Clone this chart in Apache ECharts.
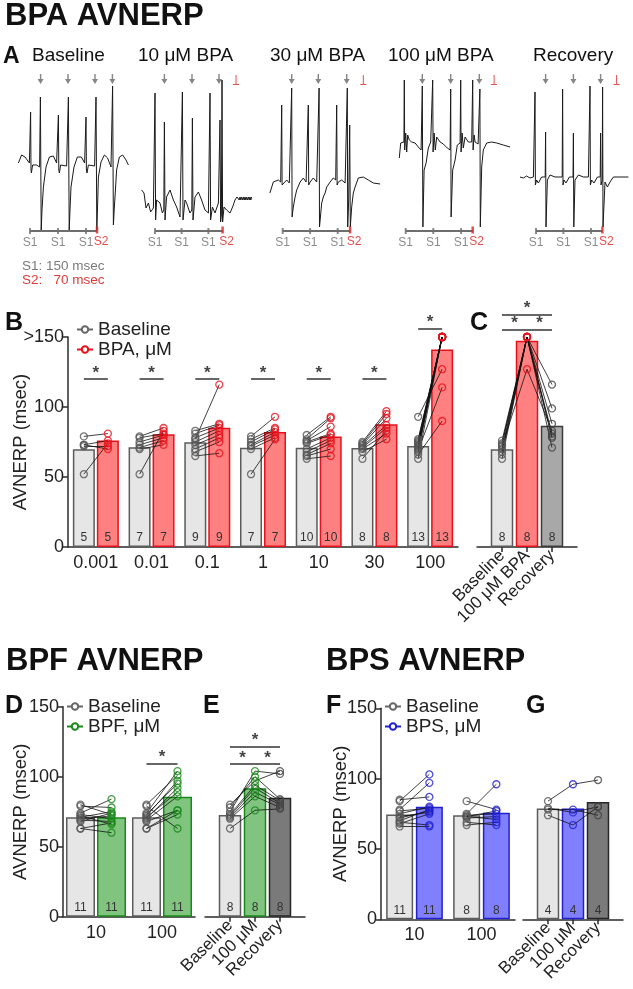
<!DOCTYPE html>
<html><head><meta charset="utf-8">
<script src="https://cdn.jsdelivr.net/npm/echarts@6/dist/echarts.min.js"></script>
<style>html,body{margin:0;padding:0;background:#fff}#c{width:633px;height:989px}</style>
</head><body><div id="c"></div>
<script>
// ================= DATA =================
// Panel A: electrogram traces, [time (ms from first S1), amplitude (a.u.)]
const traceBaseline = [[-58,77],[-42,85],[-25,83],[-3,77],[1,77],[3,128],[5,70],[7,67],[13,75],[33,75],[48,73],[52,143],[56,10],[60,30],[67,53],[80,73],[97,83],[117,84],[133,77],[140,77],[142,125],[144,70],[147,67],[153,75],[183,74],[188,74],[192,143],[196,10],[200,30],[205,53],[220,73],[237,83],[257,83],[273,77],[278,77],[280,123],[282,70],[285,67],[292,75],[323,74],[326,74],[330,143],[334,10],[338,35],[342,63],[355,78],[372,85],[388,82],[405,73],[410,73],[413,154],[417,15],[421,30],[425,43],[433,70],[447,83],[463,85],[480,80],[492,75]];
const trace10 = [[-67,50],[-55,47],[-45,32],[-33,37],[-22,28],[-8,32],[-2,30],[0,147],[3,20],[8,40],[25,37],[37,27],[44,30],[47,118],[50,20],[58,43],[75,50],[92,40],[108,33],[125,23],[134,25],[137,148],[140,20],[150,40],[158,37],[175,27],[184,30],[187,122],[190,20],[200,43],[217,48],[233,40],[250,30],[267,27],[272,28],[275,147],[278,20],[287,33],[300,27],[317,37],[322,35],[325,120],[328,18],[332,25],[335,160],[338,18],[345,33],[358,30],[375,27],[388,33],[400,40],[410,43],[417,43],[421,40],[425,43],[429,40],[433,43],[438,40],[442,43],[446,40],[450,43],[454,40],[458,43],[462,40],[467,43],[471,40],[475,43],[479,40],[483,43]];
const trace30 = [[-64,47],[-47,58],[-22,60],[-10,58],[-6,58],[-5,135],[-3,55],[3,53],[20,60],[33,57],[43,57],[45,152],[47,23],[53,33],[62,43],[70,50],[87,58],[103,62],[117,58],[126,58],[128,135],[130,55],[137,58],[153,62],[170,58],[180,58],[182,152],[184,13],[195,37],[203,43],[212,47],[220,53],[237,58],[253,62],[265,60],[268,60],[270,135],[272,55],[278,58],[295,60],[312,57],[321,57],[323,152],[325,13],[330,40],[335,115],[338,13],[345,33],[353,47],[362,53],[378,62],[403,63],[428,60],[453,57],[487,56]];
const trace100 = [[-32,82],[-25,97],[-15,98],[-9,98],[-7,160],[-5,90],[0,107],[5,88],[10,105],[18,100],[30,98],[47,97],[63,93],[77,90],[81,90],[83,154],[86,13],[92,70],[102,77],[113,92],[125,98],[133,98],[135,160],[137,88],[142,107],[148,90],[155,103],[172,98],[188,96],[208,92],[222,90],[225,151],[227,23],[235,70],[247,80],[258,95],[272,97],[275,160],[277,88],[282,107],[288,92],[297,103],[313,98],[330,98],[333,98],[335,160],[337,90],[342,105],[347,98],[362,96],[369,95],[371,151],[373,13],[380,73],[388,90],[405,97],[430,98],[455,97],[488,95],[522,93]];
const traceRecovery = [[-80,63],[-63,62],[-47,64],[-30,62],[-13,63],[-7,63],[-5,148],[-3,55],[3,60],[12,57],[28,63],[46,63],[48,108],[50,13],[57,60],[70,65],[95,63],[120,63],[131,63],[133,151],[135,55],[140,60],[150,57],[167,63],[185,63],[187,107],[189,13],[195,60],[212,65],[237,63],[262,63],[268,63],[270,154],[272,55],[278,60],[290,57],[307,63],[321,63],[323,107],[325,55],[331,60],[333,153],[335,13],[345,58],[357,53],[370,58],[387,63],[420,63],[462,63]];
const traceTitles = ['Baseline','10 μM BPA','30 μM BPA','100 μM BPA','Recovery'];
const s1Times = [[0,140,280],[0,133,267],[0,137,275],[0,138,277],[0,137,275]];
const s2Times = [335,338,337,335,332];
const arrowTimes = [[53,190,325,412],[47,185,320],[45,178,320],[83,225,368],[48,187,323]];
const blockTimes = [null,405,403,442,403];

// Panel B
const catsB = ['0.001','0.01','0.1','1','10','30','100'];
const nB = [5,7,9,7,10,8,13];
const meanBaseB = [69.8,71.2,74.8,70.9,70.9,70.7,72.1];
const meanBpaB = [76,80.5,85.2,82.1,79,87.6,141];
const ptsBaseB = [[79,73,72,52,73],[79,78,75,73,71,70,52],[83,81,78,77,75,73,70,68,65],[79,77,75,73,72,70,52],[80,77,76,75,74,70,68,66,65,63],[75,74,73,72,71,70,68,63],[93,77,76,75,74,73,72,71,70,69,68,66,63]];
const ptsBpaB = [[81,76,72,74,70],[85,81,80,78,76,73,83],[88,87,85,116,83,80,78,75,67],[93,85,84,82,80,78,77],[93,92,86,81,80,78,76,74,70,65],[97,95,92,87,85,81,77,83],[127,150,150,150,150,150,150,150,150,114,150,90,150]];
const sigB = [1,1,1,1,1,1,1];
const sigLevelB = [120,120,120,120,120,120,156];
const yTicksB = ['0','50','100','>150'];

// Panel C
const catsC = ['Baseline','100 μM BPA','Recovery'];
const nC = [8,8,8];
const meanC = [69.8,147.4,86.6];
const ptsC = [[76,74,73,72,70,68,66,63],[150,150,150,127,150,150,150,150],[116,99,88,83,81,79,78,71]];
const sigC = [[0,2,166],[0,1,155.5],[1,2,155.5]];

// Panel D
const catsD = ['10','100'];
const nD = [11,11];
const meanBaseD = [71,71];
const meanBpfD = [71,85.7];
const ptsBaseD = [[80,79,74,73,72,71,70,69,68,63,63],[80,79,74,73,72,71,70,69,68,63,63]];
const ptsBpfD = [[73,78,84,70,66,75,72,68,74,60,67],[101,63,104,95,97,89,92,86,76,73,76]];
const sigD = [0,1];
const sigLevelD = [0,109.6];
const yTicksD = ['0','50','100','150'];

// Panel E
const catsE = ['Baseline','100 μM','Recovery'];
const nE = [8,8,8];
const meanE = [72.6,91.7,85];
const ptsE = [[80,78,75,73,72,71,70,63],[97,100,104,94,92,89,86,76],[104,84,102,83,81,80,78,77]];
const sigE = [[0,2,121.4],[0,1,109],[1,2,109]];

// Panel F
const catsF = ['10','100'];
const nF = [11,8];
const meanBaseF = [74.5,74];
const meanBpsF = [80,75.7];
const ptsBaseF = [[85,84,78,77,75,73,72,70,69,68,66],[84,75,74,73,73,72,69,67]];
const ptsBpsF = [[87,103,97,79,80,76,77,78,67,75,66],[78,96,75,77,71,73,67,69]];
const sigF = [0,0];
const sigLevelF = [0,0];

// Panel G
const catsG = ['Baseline','100 μM','Recovery'];
const nG = [4,4,4];
const meanG = [78.8,78.8,83.3];
const ptsG = [[84,79,78,74],[96,76,78,67],[99,80,74,80]];
const sigG = [];

// ================= STYLE / LAYOUT =================
const FONT = '"Liberation Sans", Arial, Helvetica, sans-serif';
const AX = '#2b2b2b';
const C_BASE = {fill:'#e6e6e6', edge:'#5c5c5c', pt:'#555555'};
const C_BPA = {fill:'#ff8080', edge:'#e8101a', pt:'#e8101a'};
const C_BPF = {fill:'#80c480', edge:'#198a19', pt:'#198a19'};
const C_BPS = {fill:'#8080ff', edge:'#2020d0', pt:'#2020d0'};
const C_RECL = {fill:'#a8a8a8', edge:'#3c3c3c', pt:'#444444'};
const C_RECD = {fill:'#7a7a7a', edge:'#262626', pt:'#444444'};
const ARROW = 'path://M2.3,0 L3.7,0 L3.7,5 L6,5 L3,10 L0,5 L2.3,5 Z';
const BLOCK = 'path://M2.5,0 L3.5,0 L3.5,9 L6,9 L6,10 L0,10 L0,9 L2.5,9 Z';

const grids=[], xAxes=[], yAxes=[], series=[], titles=[];
function addGrid(g, x, y){ grids.push(Object.assign({outerBoundsMode:'none', containLabel:false}, g)); const i=grids.length-1; xAxes.push(Object.assign({gridIndex:i}, x)); yAxes.push(Object.assign({gridIndex:i}, y)); return i; }
function addText(text, left, top, size, extra){ titles.push({text, left, top, padding:0, textStyle:Object.assign({fontSize:size, fontWeight:'normal', color:'#111', fontFamily:FONT}, extra||{})}); }

// ---------- Panel A ----------
const traces = [traceBaseline, trace10, trace30, trace100, traceRecovery];
const traceLeft = [12,137,264.7,387.7,518];
const traceMax = [530,530,530,530,470];
const traceTitleLeft = [32,138,270,388,533];
const stimLevel = 9, arrowLevel = 161;
traces.forEach((tr, i) => {
  const gi = addGrid({left:traceLeft[i], top:60, width:(traceMax[i]+90)/5, height:185},
    {type:'value', min:-90, max:traceMax[i], show:false},
    {type:'value', min:-5, max:180, show:false});
  const ax = {xAxisIndex:gi, yAxisIndex:gi, silent:true};
  series.push(Object.assign({type:'line', data:tr, symbol:'none', lineStyle:{color:'#1a1a1a', width:1}, z:3}, ax));
  series.push(Object.assign({type:'line', data:[[s1Times[i][0],stimLevel],[s2Times[i],stimLevel]], symbol:'none', lineStyle:{color:'#6e6e6e', width:2}, z:2}, ax));
  series.push(Object.assign({type:'scatter', data:s1Times[i].map(t=>[t,stimLevel]), symbol:'rect', symbolSize:[2,6], itemStyle:{color:'#6e6e6e'},
    label:{show:true, position:'bottom', distance:3, formatter:'S1', color:'#6e6e6e', fontSize:12}, z:3}, ax));
  series.push(Object.assign({type:'scatter', data:[[s2Times[i],stimLevel+1]], symbol:'rect', symbolSize:[2.5,7], itemStyle:{color:'#e02020'},
    label:{show:true, position:'bottom', distance:2, offset:[4,0], formatter:'S2', color:'#e02020', fontSize:12}, z:4}, ax));
  series.push(Object.assign({type:'scatter', data:arrowTimes[i].map(t=>[t,arrowLevel]), symbol:ARROW, symbolSize:[6,10], itemStyle:{color:'#666'}, z:3}, ax));
  if (blockTimes[i] !== null) series.push(Object.assign({type:'scatter', data:[[blockTimes[i],arrowLevel-1]], symbol:BLOCK, symbolSize:[6,10], itemStyle:{color:'#e02020'}, z:3}, ax));
  addText(traceTitles[i], traceTitleLeft[i], 46, 19);
});

// ---------- paired panels (B, D, F) ----------
function pairPanel(p){
  const gi = addGrid({left:p.left, top:p.top, width:p.width, height:p.height},
    {type:'category', data:p.cats, axisTick:{alignWithLabel:true, length:5, lineStyle:{color:AX, width:1.5}},
     axisLine:{lineStyle:{color:AX, width:1.5}}, axisLabel:{fontSize:18, color:'#222', margin:7, interval:0}},
    {type:'value', min:0, max:150, interval:50, axisLine:{show:true, lineStyle:{color:AX, width:1.5}},
     axisTick:{show:true, length:5, lineStyle:{color:AX, width:1.5}}, splitLine:{show:false},
     axisLabel:{fontSize:18, color:'#222', margin:4, formatter:v=>p.yTicks[Math.round(v/50)]},
     name:'AVNERP (msec)', nameLocation:'middle', nameRotate:90, nameGap:p.nameGap, nameMoveOverlap:false,
     nameTextStyle:{fontSize:18.5, color:'#222'}});
  const scale = p.height/150, oh = scale*180;
  const oi = addGrid({left:p.left, top:p.top+p.height-oh, width:p.width, height:oh},
    {type:'value', min:-0.5, max:p.cats.length-0.5, show:false},
    {type:'value', min:0, max:180, show:false});
  const band = p.width/p.cats.length;
  const off = (p.barWidth/2*(1+p.barGap))/band;
  const lab = {show:true, position:'insideBottom', distance:3, fontSize:12, color:'#333', formatter:q=>p.n[q.dataIndex]};
  series.push({type:'bar', xAxisIndex:gi, yAxisIndex:gi, data:p.meanA, barWidth:p.barWidth, barGap:(p.barGap*100)+'%',
    itemStyle:{color:p.colA.fill, borderColor:p.colA.edge, borderWidth:1.5}, label:lab, z:2, silent:true});
  series.push({type:'bar', xAxisIndex:gi, yAxisIndex:gi, data:p.meanB, barWidth:p.barWidth, barGap:(p.barGap*100)+'%',
    itemStyle:{color:p.colB.fill, borderColor:p.colB.edge, borderWidth:1.5}, label:lab, z:2, silent:true});
  const pairs=[], sa=[], sb=[];
  p.ptsA.forEach((arr, i) => arr.forEach((a, k) => {
    const b = p.ptsB[i][k];
    pairs.push({coords:[[i-off,a],[i+off,b]]});
    sa.push([i-off,a]); sb.push([i+off,b]);
  }));
  const ax = {xAxisIndex:oi, yAxisIndex:oi, silent:true};
  series.push(Object.assign({type:'lines', coordinateSystem:'cartesian2d', data:pairs, lineStyle:{color:'#111', width:0.8, opacity:1}, z:4}, ax));
  series.push(Object.assign({type:'scatter', data:sa, symbol:'circle', symbolSize:7, itemStyle:{color:'rgba(0,0,0,0)', borderColor:p.colA.pt, borderWidth:1.3}, z:5}, ax));
  series.push(Object.assign({type:'scatter', data:sb, symbol:'circle', symbolSize:7, itemStyle:{color:'rgba(0,0,0,0)', borderColor:p.colB.pt, borderWidth:1.3}, z:5}, ax));
  const sl=[], st=[];
  p.sig.forEach((s, i) => { if (s) { sl.push({coords:[[i-off,p.sigLevel[i]],[i+off,p.sigLevel[i]]]}); st.push([i, p.sigLevel[i]+6/scale]); } });
  if (sl.length){
    series.push(Object.assign({type:'lines', coordinateSystem:'cartesian2d', data:sl, lineStyle:{color:'#333', width:1.5, opacity:1}, z:4}, ax));
    series.push(Object.assign({type:'scatter', data:st, symbol:'circle', symbolSize:0.1, itemStyle:{color:'rgba(0,0,0,0)'},
      label:{show:true, position:'inside', formatter:'*', fontSize:17, fontWeight:'bold', color:'#111'}, z:5}, ax));
  }
}

// ---------- triple panels (C, E, G) ----------
function triplePanel(p){
  const cats = [' ', ...p.cats, '  '];
  const gi = addGrid({left:p.left, top:p.top, width:p.width, height:p.height},
    {type:'category', data:cats, boundaryGap:false,
     axisTick:{length:5, interval:(i,v)=>v.trim()!=='', lineStyle:{color:AX, width:1.5}},
     axisLine:{lineStyle:{color:AX, width:1.5}}, axisLabel:{fontSize:17, color:'#222', rotate:45, interval:0, margin:6}},
    {type:'value', min:0, max:150, show:false});
  const scale = p.height/150, oh = scale*180;
  const oi = addGrid({left:p.left, top:p.top+p.height-oh, width:p.width, height:oh},
    {type:'value', min:0, max:4, show:false},
    {type:'value', min:0, max:180, show:false});
  series.push({type:'bar', xAxisIndex:gi, yAxisIndex:gi, barWidth:22.5,
    data:['-', ...p.means.map((m,i)=>({value:m, itemStyle:{color:p.cols[i].fill, borderColor:p.cols[i].edge, borderWidth:1.5}})), '-'],
    label:{show:true, position:'insideBottom', distance:3, fontSize:12, color:'#333', formatter:q=>p.n[q.dataIndex-1]}, z:2, silent:true});
  const ax = {xAxisIndex:oi, yAxisIndex:oi, silent:true};
  const lines = p.pts[0].map((_, k) => ({coords:p.pts.map((arr, i)=>[i+1, arr[k]])}));
  series.push(Object.assign({type:'lines', coordinateSystem:'cartesian2d', polyline:true, data:lines, lineStyle:{color:'#111', width:0.8, opacity:1}, z:4}, ax));
  p.pts.forEach((arr, i) => {
    series.push(Object.assign({type:'scatter', data:arr.map(v=>[i+1,v]), symbol:'circle', symbolSize:7,
      itemStyle:{color:'rgba(0,0,0,0)', borderColor:p.cols[i].pt, borderWidth:1.3}, z:5}, ax));
  });
  if (p.sig.length){
    series.push(Object.assign({type:'lines', coordinateSystem:'cartesian2d', data:p.sig.map(s=>({coords:[[s[0]+1,s[2]],[s[1]+1,s[2]]]})), lineStyle:{color:'#333', width:1.5, opacity:1}, z:4}, ax));
    series.push(Object.assign({type:'scatter', data:p.sig.map(s=>[(s[0]+s[1])/2+1, s[2]+6/scale]), symbol:'circle', symbolSize:0.1, itemStyle:{color:'rgba(0,0,0,0)'},
      label:{show:true, position:'inside', formatter:'*', fontSize:17, fontWeight:'bold', color:'#111'}, z:5}, ax));
  }
}

pairPanel({left:68, top:337, width:390, height:210, cats:catsB, n:nB, meanA:meanBaseB, meanB:meanBpaB, ptsA:ptsBaseB, ptsB:ptsBpaB,
  colA:C_BASE, colB:C_BPA, barWidth:22, barGap:0.09, sig:sigB, sigLevel:sigLevelB, yTicks:yTicksB, nameGap:38});
triplePanel({left:477, top:337, width:100, height:210, cats:catsC, n:nC, means:meanC, pts:ptsC, cols:[C_BASE,C_BPA,C_RECL], sig:sigC});
pairPanel({left:63, top:706.7, width:132, height:210, cats:catsD, n:nD, meanA:meanBaseD, meanB:meanBpfD, ptsA:ptsBaseD, ptsB:ptsBpfD,
  colA:C_BASE, colB:C_BPF, barWidth:29, barGap:0.07, sig:sigD, sigLevel:sigLevelD, yTicks:yTicksD, nameGap:33});
triplePanel({left:205, top:706.7, width:100, height:210, cats:catsE, n:nE, means:meanE, pts:ptsE, cols:[C_BASE,C_BPF,C_RECD], sig:sigE});
pairPanel({left:381, top:708.3, width:134, height:211, cats:catsF, n:nF, meanA:meanBaseF, meanB:meanBpsF, ptsA:ptsBaseF, ptsB:ptsBpsF,
  colA:C_BASE, colB:C_BPS, barWidth:27, barGap:0.1, sig:sigF, sigLevel:sigLevelF, yTicks:yTicksD, nameGap:31});
triplePanel({left:523, top:708.3, width:100, height:211, cats:catsG, n:nG, means:meanG, pts:ptsG, cols:[C_BASE,C_BPS,C_RECD], sig:sigG});

// legend dummy series
[['Baseline','#666'],['BPA, μM',C_BPA.edge],['BPF, μM',C_BPF.edge],['BPS, μM',C_BPS.edge]].forEach(([nm,c]) => {
  series.push({type:'line', name:nm, xAxisIndex:5, yAxisIndex:5, data:[], symbol:'emptyCircle', symbolSize:7, itemStyle:{color:c}, lineStyle:{color:c, width:1.5}});
});
const legBase = {orient:'vertical', itemGap:1, itemWidth:16, itemHeight:8, padding:0, selectedMode:false, textStyle:{fontSize:19, color:'#222', fontFamily:FONT}};
const legends = [
  Object.assign({left:76, top:320, data:['Baseline','BPA, μM']}, legBase),
  Object.assign({left:66, top:697, data:['Baseline','BPF, μM']}, legBase),
  Object.assign({left:384, top:697, data:['Baseline','BPS, μM']}, legBase)
];

// texts
addText('BPA AVNERP', 5, 1, 31, {fontWeight:'bold'});
addText('A', 3, 45, 23, {fontWeight:'bold'});
addText('S1: 150 msec', 22, 259, 13.5, {color:'#7a7a7a'});
addText('S2:   70 msec', 22, 273, 13.5, {color:'#e23a3a'});
addText('B', 5, 311, 25, {fontWeight:'bold'});
addText('C', 470, 311, 25, {fontWeight:'bold'});
addText('BPF AVNERP', 6, 646, 31, {fontWeight:'bold'});
addText('BPS AVNERP', 326, 646, 31, {fontWeight:'bold'});
addText('D', 5, 694, 25, {fontWeight:'bold'});
addText('E', 203, 694, 25, {fontWeight:'bold'});
addText('F', 326, 694, 25, {fontWeight:'bold'});
addText('G', 526, 694, 25, {fontWeight:'bold'});

const chart = echarts.init(document.getElementById('c'), null, {renderer:'canvas', width:633, height:989});
chart.setOption({
  animation:false, backgroundColor:'#fff', textStyle:{fontFamily:FONT},
  title:titles, legend:legends, grid:grids, xAxis:xAxes, yAxis:yAxes, series:series
});
</script></body></html>
